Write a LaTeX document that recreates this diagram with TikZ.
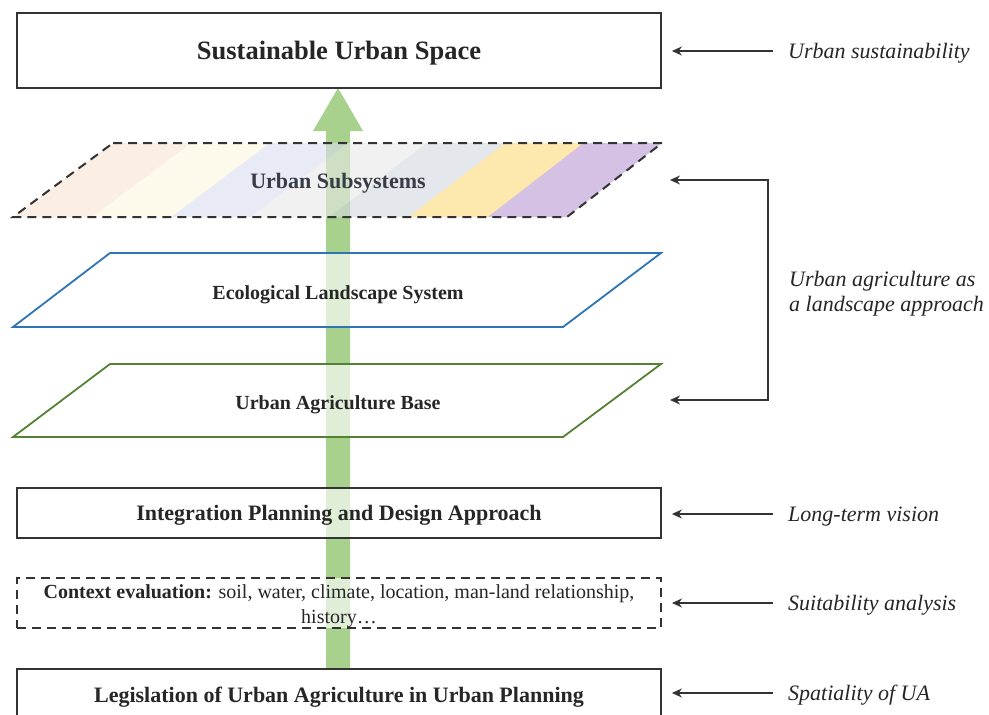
\documentclass[tikz,border=0pt]{standalone}
\usepackage{fontspec}
\setmainfont{Liberation Serif}
\usetikzlibrary{arrows.meta}
\definecolor{arrowgreen}{HTML}{A9D18E}
\definecolor{ecoblue}{HTML}{2E75B6}
\definecolor{agrigreen}{HTML}{548235}
\definecolor{txt}{HTML}{262626}
\definecolor{subtxt}{HTML}{383C47}
\definecolor{linec}{HTML}{333333}
\definecolor{sA}{HTML}{F8E3D4}
\definecolor{sB}{HTML}{FDF5DF}
\definecolor{sC}{HTML}{DADFF0}
\definecolor{sD}{HTML}{E9E9E9}
\definecolor{sE}{HTML}{D2D7DF}
\definecolor{sF}{HTML}{FDDA78}
\definecolor{sG}{HTML}{B999D2}
\begin{document}
\begin{tikzpicture}[x=1pt,y=-1pt,
  box/.style={draw=linec, line width=1.8pt, fill=white, minimum width=644pt, text=txt, inner sep=0pt},
  dline/.style={draw=linec, line width=2pt, dash pattern=on 9pt off 6pt},
  layer/.style={line width=1.8pt, fill=white, fill opacity=.65},
  ltext/.style={text=txt, font=\fontsize{20}{24}\selectfont\bfseries},
  side/.style={anchor=west, text=txt, font=\fontsize{22}{25}\selectfont\itshape, align=left, inner sep=0pt},
  side1/.style={side, text height=14.5pt, text depth=0pt},
  arr/.style={draw=linec, line width=1.5pt, -{Stealth[length=10pt,width=9pt]}},
  arrb/.style={draw=linec, line width=1.5pt, {Stealth[length=10pt,width=9pt]}-{Stealth[length=10pt,width=9pt]}}
]
\useasboundingbox (0,0) rectangle (989,715);
\fill[white] (0,0) rectangle (989,715);

% big green arrow (behind everything)
\fill[arrowgreen] (326,668) -- (326,131) -- (313,131) -- (338,88) -- (363,131) -- (350,131) -- (350,668) -- cycle;

% top box
\node[box, minimum height=75pt, text height=17.5pt, text depth=0pt, font=\fontsize{26.5}{30}\selectfont\bfseries] (top) at (339,50.5) {Sustainable Urban Space};

% urban subsystems (striped, dashed)
\foreach \c [count=\i from 0] in {sA,sB,sC,sD,sE,sF,sG} {
  \fill[\c, fill opacity=.6] ({113+\i*78.43},143) -- ({113+(\i+1)*78.43},143) -- ({13+(\i+1)*79.14},217) -- ({13+\i*79.14},217) -- cycle;
}
\draw[dline] (113,143) -- (662,143) -- (567,217) -- (13,217) -- cycle;
\node[text=subtxt, font=\fontsize{22}{26}\selectfont\bfseries] (sub) at (338,183.5) {Urban Subsystems};

% ecological landscape system
\filldraw[layer, draw=ecoblue] (110,253) -- (661,253) -- (563,327) -- (13,327) -- cycle;
\node[ltext] (eco) at (338,294.5) {Ecological Landscape System};

% urban agriculture base
\filldraw[layer, draw=agrigreen] (110,364) -- (661,364) -- (563,437) -- (13,437) -- cycle;
\node[ltext] (agri) at (338,404.5) {Urban Agriculture Base};

% integration box
\node[box, minimum height=50pt, text height=14.6pt, text depth=0pt, fill opacity=.65, text opacity=1, font=\fontsize{22}{26}\selectfont\bfseries] (integ) at (339,513) {Integration Planning and Design Approach};

% context box (dashed)
\node[box, dline, minimum height=50pt, fill opacity=.65] (ctx) at (339,603) {};
\node[text=txt, align=center, inner sep=0pt, font=\fontsize{20}{25.5}\selectfont] (ctxt) at (339,606) {\textbf{Context evaluation:} soil, water, climate, location, man-land relationship,\\history\ldots};

% legislation box (bottom, cut by the page edge)
\node[box, anchor=north, minimum height=52pt, text height=14.6pt, text depth=0pt, font=\fontsize{22}{26}\selectfont\bfseries] (leg) at (339,668) {Legislation of Urban Agriculture in Urban Planning};

% side labels
\node[side1] (l1) at (788,51) {Urban sustainability};
\node[side] (l2) at (789,294) {Urban agriculture as\\a landscape approach};
\node[side1] (l3) at (788,514) {Long-term vision};
\node[side1] (l4) at (788,603) {Suitability analysis};
\node[side1] (l5) at (788,693) {Spatiality of UA};

\draw[arr] ([xshift=-15pt]l1.west) -- ([xshift=10pt]top.east |- l1.west);
\draw[arr] ([xshift=-15pt]l3.west) -- ([xshift=10pt]integ.east |- l3.west);
\draw[arr] ([xshift=-15pt]l4.west) -- ([xshift=10pt]ctx.east |- l4.west);
\draw[arr] ([xshift=-15pt]l5.west) -- ([xshift=10pt]leg.east |- l5.west);

\coordinate (subR) at (670,180);
\coordinate (agriR) at (670,400);
\coordinate (bt) at (768,180);
\coordinate (bb) at (768,400);
\draw[arrb] (subR) -- (bt) -- (bb) -- (agriR);
\end{tikzpicture}
\end{document}
